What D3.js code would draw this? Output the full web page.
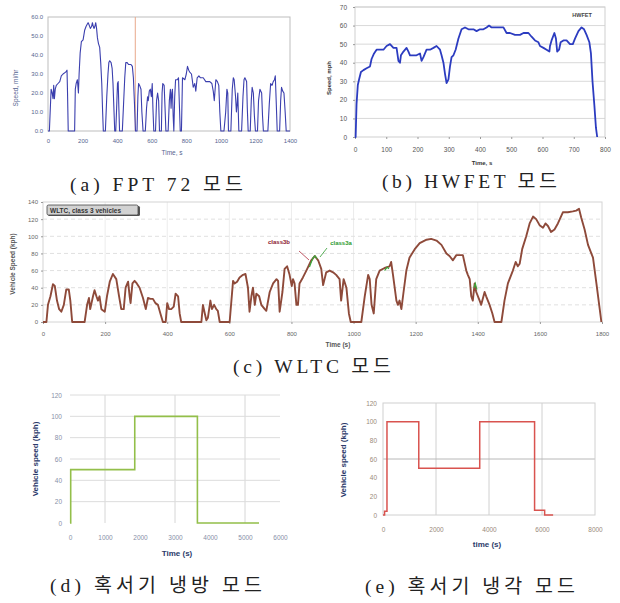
<!DOCTYPE html>
<html>
<head>
<meta charset="utf-8">
<script src="https://cdn.jsdelivr.net/npm/d3@7"></script>
<style>
  body { margin: 0; background: #fff; }
  svg { display: block; }
  .cap { font-family: "Liberation Serif", "DejaVu Serif", "Noto Sans CJK KR", serif; font-size: 19.5px; fill: #222; }
  .tk text { font-family: "Liberation Sans", Arial, sans-serif; }
</style>
</head>
<body>
<div id="chart"></div>
<script>
// (a) FTP 72 : [time s, speed mi/hr]
const ftpProfile = [[0,0],[8,0],[18,22],[24,20],[29,17],[33,24],[37,17],[42,22],[48,24],[58,25],[68,26],[77,29],[87,30],[102,31],[110,32],[113,20],[117,0],[154,0],[158,22],[163,25],[170,27],[176,20],[180,30],[186,41],[193,47],[203,48],[212,53],[220,55],[226,56],[232,57],[237,56],[245,54],[252,55],[257,57],[262,55],[266,54],[271,55],[276,57],[281,54],[286,49],[292,46],[299,44],[305,36],[311,25],[316,10],[320,0],[332,0],[340,18],[347,30],[352,36],[357,37],[365,36],[371,33],[376,25],[380,15],[386,0],[392,0],[397,12],[402,25],[406,26],[410,12],[414,0],[430,0],[437,14],[444,28],[450,36],[458,36],[466,35],[473,35],[480,35],[488,34],[494,28],[500,15],[506,0],[515,0],[520,18],[524,25],[530,24],[538,22],[543,10],[550,0],[563,0],[570,12],[576,18],[580,16],[586,21],[592,22],[598,18],[603,25],[607,12],[612,0],[622,0],[628,16],[634,20],[640,16],[645,0],[656,0],[660,20],[664,25],[672,24],[678,10],[682,0],[695,0],[702,16],[708,22],[712,12],[716,20],[720,22],[724,8],[728,0],[733,18],[738,27],[748,27],[755,28],[760,14],[765,0],[772,0],[778,28],[792,27],[800,30],[807,34],[814,32],[820,31],[830,30],[836,26],[840,23],[849,25],[855,21],[863,28],[873,29],[882,28],[898,28],[913,26],[925,26],[936,26],[948,25],[956,21],[962,16],[971,27],[980,26],[988,24],[994,10],[1000,0],[1018,0],[1028,10],[1035,22],[1040,20],[1044,0],[1058,0],[1066,22],[1072,28],[1077,27],[1085,18],[1090,10],[1094,14],[1098,20],[1104,0],[1120,0],[1128,18],[1134,27],[1139,28],[1149,26],[1153,12],[1158,0],[1170,0],[1176,16],[1181,23],[1188,20],[1194,8],[1200,0],[1212,0],[1218,16],[1226,22],[1236,20],[1241,8],[1246,0],[1272,0],[1280,14],[1288,25],[1296,24],[1303,26],[1310,27],[1315,29],[1320,16],[1326,0],[1340,0],[1346,16],[1351,23],[1358,21],[1365,20],[1372,10],[1378,0],[1400,0]];
const ftpTicksX = [0,200,400,600,800,1000,1200,1400];
const ftpTicksY = [0,10,20,30,40,50,60];
const ftpMarker = 505;

// (b) HWFET : [time s, speed mph]
const hwfetProfile = [[0,0],[2,0],[5,18],[9,28],[13,31],[19,35],[27,36],[37,37],[48,38],[53,42],[61,45],[69,47],[80,47],[91,47],[101,49],[112,50],[123,48],[133,48],[139,41],[144,40],[147,44],[155,46],[165,48],[171,46],[176,44],[187,44],[197,44],[208,45],[213,41],[219,43],[229,47],[240,47],[251,48],[261,49],[272,47],[277,44],[283,40],[288,34],[293,29],[299,31],[304,38],[309,43],[315,44],[322,47],[331,53],[341,58],[352,59],[363,58],[379,58],[389,57],[400,58],[411,58],[421,59],[429,60],[437,59],[453,59],[475,59],[485,56],[496,56],[512,55],[528,55],[539,56],[555,56],[565,54],[576,52],[587,51],[592,49],[603,48],[613,47],[622,46],[624,49],[629,52],[638,56],[643,53],[647,46],[653,47],[658,51],[667,52],[677,52],[688,50],[697,50],[704,53],[715,57],[725,59],[733,58],[741,55],[750,51],[755,45],[760,30],[766,17],[771,5],[775,0]];
const hwfetTicksX = [0,100,200,300,400,500,600,700,800];
const hwfetTicksY = [0,10,20,30,40,50,60,70];

// (c) WLTC class 3 : [time s, speed kph]
const wltcProfile = [[0,0],[11,0],[16,20],[24,30],[32,44],[38,42],[45,25],[52,15],[59,12],[67,20],[75,38],[83,38],[88,25],[94,0],[134,0],[142,20],[148,28],[152,15],[161,30],[166,37],[172,30],[177,25],[182,30],[188,15],[199,12],[206,30],[215,47],[225,56],[236,50],[245,30],[252,15],[260,15],[266,40],[274,47],[279,30],[282,22],[288,45],[295,48],[302,45],[311,40],[322,28],[331,15],[338,28],[346,27],[354,27],[362,22],[370,20],[378,10],[386,0],[395,0],[400,22],[406,15],[413,15],[421,18],[427,33],[435,30],[440,10],[445,0],[510,0],[515,20],[521,10],[526,2],[531,5],[539,25],[544,15],[551,20],[558,15],[563,13],[569,0],[601,0],[612,48],[617,45],[625,47],[633,52],[644,55],[652,56],[660,40],[665,12],[671,30],[676,40],[682,20],[687,33],[696,30],[703,20],[714,15],[719,13],[730,35],[741,45],[752,50],[757,48],[762,12],[771,35],[778,62],[786,65],[794,55],[801,42],[805,50],[810,45],[816,20],[821,20],[826,45],[837,52],[848,60],[864,72],[875,77],[886,72],[896,62],[902,43],[912,58],[923,60],[934,58],[944,55],[955,50],[960,25],[968,50],[977,40],[985,10],[991,0],[1025,0],[1036,30],[1047,55],[1052,50],[1058,20],[1065,10],[1073,50],[1084,60],[1100,63],[1116,65],[1121,70],[1127,55],[1138,25],[1143,20],[1148,25],[1154,15],[1161,35],[1170,60],[1180,75],[1197,85],[1213,92],[1235,96],[1250,97],[1267,95],[1283,90],[1299,80],[1309,77],[1320,72],[1331,78],[1341,78],[1352,78],[1363,60],[1368,55],[1374,50],[1379,30],[1384,25],[1390,45],[1395,35],[1406,25],[1411,20],[1422,35],[1427,30],[1438,20],[1447,10],[1454,0],[1476,0],[1486,25],[1497,45],[1513,60],[1522,70],[1529,65],[1535,68],[1543,85],[1556,100],[1567,115],[1578,123],[1588,120],[1599,113],[1610,110],[1618,115],[1626,112],[1636,105],[1647,108],[1658,115],[1674,128],[1690,128],[1706,129],[1717,130],[1726,132],[1733,122],[1744,108],[1755,90],[1771,75],[1782,45],[1798,0]];
const wltc3aParts = [
  [[858,64],[864,70],[870,75],[876,77],[882,74]],
  [[1100,60],[1108,64],[1114,62]],
  [[1388,40],[1392,45],[1397,38]]
];
const wltcTicksX = [0,200,400,600,800,1000,1200,1400,1600,1800];
const wltcTicksY = [0,20,40,60,80,100,120,140];

// (d) 혹서기 냉방 : step changes [time s, speed kph]
const coolingAcSteps = [[0,0],[20,50],[1850,100],[3640,0],[5400,0]];
const coolingAcTicksX = [0,1000,2000,3000,4000,5000,6000];
const coolingAcTicksY = [0,20,40,60,80,100,120];

// (e) 혹서기 냉각 : step changes [time s, speed kph]
const coolingSteps = [[0,0],[60,4],[150,100],[1350,50],[3650,100],[5720,5],[6100,0],[6420,0]];
const coolingTicksX = [0,2000,4000,6000,8000];
const coolingTicksY = [0,20,40,60,80,100,120];

const captions = [
  {text: "(a) FPT 72 모드", x: 70, y: 191, len: 173},
  {text: "(b) HWFET 모드", x: 382, y: 188, len: 175},
  {text: "(c) WLTC 모드", x: 233, y: 373, len: 158},
  {text: "(d) 혹서기 냉방 모드", x: 50, y: 592, len: 212},
  {text: "(e) 혹서기 냉각 모드", x: 365, y: 593, len: 210}
];

const svg = d3.select("#chart").append("svg")
  .attr("width", 620).attr("height", 603);

const font = "Liberation Sans, Arial, sans-serif";

function drawPanel(p) {
  const x = d3.scaleLinear().domain(p.xDomain).range([p.left, p.right]);
  const y = d3.scaleLinear().domain(p.yDomain).range([p.bottom, p.top]);
  const g = svg.append("g");

  if (p.vGrid) {
    g.append("g").selectAll("line").data(p.vGrid).join("line")
      .attr("x1", d => x(d)).attr("x2", d => x(d))
      .attr("y1", p.top).attr("y2", p.bottom)
      .attr("stroke", p.vGridColor || "#ddd").attr("stroke-width", 1);
  }
  if (p.hGrid) {
    g.append("g").selectAll("line").data(p.hGrid).join("line")
      .attr("x1", p.left).attr("x2", p.right)
      .attr("y1", d => y(d)).attr("y2", d => y(d))
      .attr("stroke", p.hGridColor || "#ddd").attr("stroke-width", 1)
      .attr("stroke-dasharray", p.hGridDash || null);
  }
  if (p.frame) {
    g.append("rect")
      .attr("x", p.left).attr("y", p.top)
      .attr("width", p.right - p.left).attr("height", p.bottom - p.top)
      .attr("fill", "none").attr("stroke", p.frame);
  }

  // axes
  const ya = g.append("g").attr("class", "tk")
    .attr("transform", `translate(${p.left},0)`)
    .call(d3.axisLeft(y).tickValues(p.yTicks).tickFormat(p.yFormat || d3.format("d"))
      .tickSize(p.tickSize || 0).tickPadding(p.yPad));
  ya.select(".domain").remove();
  ya.selectAll("line").attr("stroke", "#999");
  ya.selectAll("text").attr("font-size", p.tickFont).attr("fill", p.tickColor);

  const xa = g.append("g").attr("class", "tk")
    .attr("transform", `translate(0,${p.bottom})`)
    .call(d3.axisBottom(x).tickValues(p.xTicks).tickFormat(d3.format("d"))
      .tickSize(p.tickSize || 0).tickPadding(p.xPad));
  xa.select(".domain").remove();
  xa.selectAll("line").attr("stroke", "#999");
  xa.selectAll("text").attr("font-size", p.tickFont).attr("fill", p.tickColor);

  // axis titles
  g.append("text").text(p.xTitle)
    .attr("x", p.xTitlePos[0]).attr("y", p.xTitlePos[1])
    .attr("text-anchor", "middle").attr("font-family", font)
    .attr("font-size", p.titleFont).attr("font-weight", p.titleWeight || "normal")
    .attr("fill", p.titleColor);
  g.append("text").text(p.yTitle)
    .attr("transform", `translate(${p.yTitlePos[0]},${p.yTitlePos[1]}) rotate(-90)`)
    .attr("text-anchor", "middle").attr("font-family", font)
    .attr("font-size", p.titleFont).attr("font-weight", p.titleWeight || "normal")
    .attr("fill", p.titleColor);

  const line = d3.line().x(d => x(d[0])).y(d => y(d[1]));
  if (p.curve) line.curve(p.curve);
  return {g, x, y, line};
}

// (a)
const pa = drawPanel({
  left: 48, right: 290, top: 17, bottom: 131,
  xDomain: [0, 1400], yDomain: [0, 60],
  xTicks: ftpTicksX, yTicks: ftpTicksY, yFormat: d3.format(".1f"),
  frame: "#bdbdbd", tickFont: 6, tickColor: "#55648f", yPad: 5, xPad: 8,
  xTitle: "Time, s", xTitlePos: [172, 155], yTitle: "Speed, mi/hr", yTitlePos: [18, 88],
  titleFont: 6.5, titleColor: "#55648f"
});
pa.g.append("line")
  .attr("x1", pa.x(ftpMarker)).attr("x2", pa.x(ftpMarker))
  .attr("y1", 17).attr("y2", 131)
  .attr("stroke", "#e9a98c").attr("stroke-width", 1);
pa.g.append("path").datum(ftpProfile).attr("d", pa.line)
  .attr("fill", "none").attr("stroke", "#3b3fae").attr("stroke-width", 1.1)
  .attr("stroke-linejoin", "round");

// (b)
const pb = drawPanel({
  left: 355, right: 605, top: 7, bottom: 137,
  xDomain: [0, 800], yDomain: [0, 70],
  xTicks: hwfetTicksX, yTicks: hwfetTicksY,
  hGrid: hwfetTicksY.slice(1), hGridColor: "#d9d9d9", frame: "#cfcfcf",
  tickSize: 2, tickFont: 6.5, tickColor: "#555", yPad: 6, xPad: 8,
  xTitle: "Time, s", xTitlePos: [482, 165], yTitle: "Speed, mph", yTitlePos: [331, 78],
  titleFont: 6, titleWeight: "bold", titleColor: "#333"
});
pb.g.append("text").text("HWFET")
  .attr("x", 582).attr("y", 17).attr("text-anchor", "middle")
  .attr("font-family", font).attr("font-size", 5.5).attr("font-weight", "bold").attr("fill", "#444");
pb.g.append("path").datum(hwfetProfile).attr("d", pb.line)
  .attr("fill", "none").attr("stroke", "#2c3cc0").attr("stroke-width", 1.8)
  .attr("stroke-linejoin", "round");

// (c)
const pc = drawPanel({
  left: 43, right: 602, top: 202, bottom: 322,
  xDomain: [0, 1800], yDomain: [0, 140],
  xTicks: wltcTicksX, yTicks: wltcTicksY,
  vGrid: wltcTicksX.slice(1, -1), vGridColor: "#ececec",
  hGrid: wltcTicksY.slice(1, -1), hGridColor: "#e0e0e0", hGridDash: "4,3",
  frame: "#d4d4d4", tickSize: 2, tickFont: 6, tickColor: "#666", yPad: 3, xPad: 8,
  xTitle: "Time (s)", xTitlePos: [338, 347], yTitle: "Vehicle Speed (kph)", yTitlePos: [15, 264],
  titleFont: 6.5, titleWeight: "bold", titleColor: "#555"
});
pc.g.append("rect").attr("x", 48).attr("y", 206).attr("width", 92).attr("height", 10)
  .attr("fill", "#555").attr("rx", 1.5);
pc.g.append("rect").attr("x", 47).attr("y", 205).attr("width", 91).attr("height", 10)
  .attr("fill", "#d2d2d2").attr("stroke", "#444").attr("stroke-width", 0.8).attr("rx", 1.5);
pc.g.append("text").text("WLTC, class 3 vehicles")
  .attr("x", 50).attr("y", 212.5).attr("font-family", font)
  .attr("font-size", 6.5).attr("font-weight", "bold").attr("fill", "#333");
pc.g.append("path").datum(wltcProfile).attr("d", pc.line)
  .attr("fill", "none").attr("stroke", "#8e4a3a").attr("stroke-width", 1.9)
  .attr("stroke-linejoin", "round");
pc.g.append("g").selectAll("path").data(wltc3aParts).join("path")
  .attr("d", pc.line).attr("fill", "none").attr("stroke", "#3aa83a").attr("stroke-width", 1.2);
pc.g.append("text").text("class3b").attr("x", 279).attr("y", 244)
  .attr("text-anchor", "middle").attr("font-family", font).attr("font-size", 6)
  .attr("font-weight", "bold").attr("fill", "#8b2030");
pc.g.append("line").attr("x1", 299).attr("y1", 251).attr("x2", 309).attr("y2", 260)
  .attr("stroke", "#b03040").attr("stroke-width", 0.8);
pc.g.append("text").text("class3a").attr("x", 341).attr("y", 245)
  .attr("text-anchor", "middle").attr("font-family", font).attr("font-size", 6)
  .attr("font-weight", "bold").attr("fill", "#2e9a2e");
pc.g.append("line").attr("x1", 327).attr("y1", 248).attr("x2", 320).attr("y2", 257)
  .attr("stroke", "#2e9a2e").attr("stroke-width", 0.8);

// (d)
const pd = drawPanel({
  left: 70, right: 280, top: 395, bottom: 523,
  xDomain: [0, 6000], yDomain: [0, 120],
  xTicks: coolingAcTicksX, yTicks: coolingAcTicksY,
  vGrid: [1000, 3000, 5000], vGridColor: "#d6d6d6",
  hGrid: coolingAcTicksY.slice(1), hGridColor: "#dcdcdc",
  tickFont: 6.5, tickColor: "#8890a8", yPad: 8, xPad: 12,
  xTitle: "Time (s)", xTitlePos: [177, 556], yTitle: "Vehicle speed (kph)", yTitlePos: [38, 459],
  titleFont: 8, titleWeight: "bold", titleColor: "#2b3a6a", curve: d3.curveStepAfter
});
pd.g.append("path").datum(coolingAcSteps).attr("d", pd.line)
  .attr("fill", "none").attr("stroke", "#93bf4a").attr("stroke-width", 1.6);

// (e)
const pe = drawPanel({
  left: 383, right: 595, top: 403, bottom: 515,
  xDomain: [0, 8000], yDomain: [0, 120],
  xTicks: coolingTicksX, yTicks: coolingTicksY,
  vGrid: [2000, 4000, 6000], vGridColor: "#d0d0d0",
  hGrid: [60], hGridColor: "#b8b8b8", frame: "#d0d0d0",
  tickFont: 6.5, tickColor: "#9a8a7a", yPad: 6, xPad: 12,
  xTitle: "time (s)", xTitlePos: [487, 547], yTitle: "Vehicle speed (kph)", yTitlePos: [346, 460],
  titleFont: 8, titleWeight: "bold", titleColor: "#2b3a6a", curve: d3.curveStepAfter
});
pe.g.append("path").datum(coolingSteps).attr("d", pe.line)
  .attr("fill", "none").attr("stroke", "#d9534f").attr("stroke-width", 1.5);

// captions
svg.append("g").selectAll("text").data(captions).join("text")
  .attr("class", "cap")
  .attr("x", d => d.x).attr("y", d => d.y)
  .attr("textLength", d => d.len).attr("lengthAdjust", "spacing")
  .text(d => d.text);
</script>
</body>
</html>
